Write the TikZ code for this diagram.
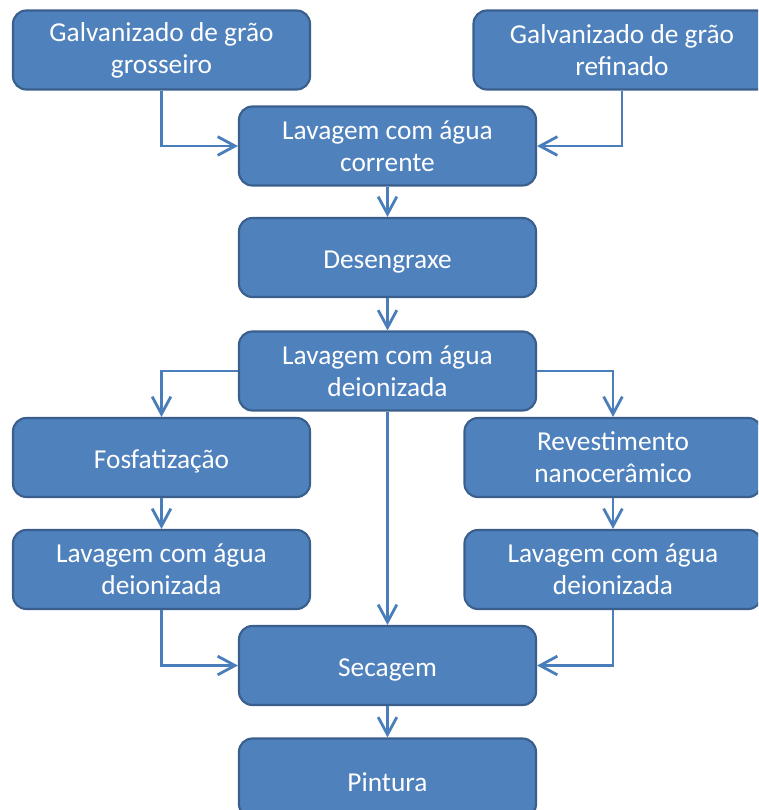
\documentclass[tikz,border=0pt]{standalone}
\usepackage{fontspec}
\setmainfont{Carlito}
\usetikzlibrary{arrows.meta}
\definecolor{boxfill}{HTML}{4F81BD}
\definecolor{boxline}{HTML}{3A5F8C}
\definecolor{arrowc}{HTML}{4A7EBB}
\tikzset{
  stepbox/.style={draw=boxline, line width=1.6pt, fill=boxfill, rounded corners=10pt,
    minimum width=222.75pt, minimum height=59.25pt, inner sep=0pt,
    align=center, text=white,
    font=\fontsize{20.5}{24}\selectfont,
    execute at begin node={\rule{0pt}{20pt}}},
  twoline/.style={execute at begin node={\rule{0pt}{24pt}}},
  flow/.style={draw=arrowc, line width=2.1pt,
    -{Straight Barb[length=13pt,width=14pt,line width=2.1pt]}}
}
\begin{document}
\begin{tikzpicture}[x=0.75pt,y=-0.75pt]
\useasboundingbox (0,0) rectangle (758,810);
\clip (0,0) rectangle (758,810);
\node[stepbox,twoline] (g1) at (161.5,50) {Galvanizado de grão\\grosseiro};
\node[stepbox,twoline] (g2) at (622,50) {Galvanizado de grão\\refinado};
\node[stepbox,twoline] (l1) at (387.5,146) {Lavagem com água\\corrente};
\node[stepbox] (d) at (387.5,257.5) {Desengraxe};
\node[stepbox,twoline] (l2) at (387.5,371) {Lavagem com água\\deionizada};
\node[stepbox] (f) at (161.5,457.5) {Fosfatização};
\node[stepbox,twoline] (lf) at (161.5,569.5) {Lavagem com água\\deionizada};
\node[stepbox,twoline] (r) at (613,457.5) {Revestimento\\nanocerâmico};
\node[stepbox,twoline] (lr) at (613,569.5) {Lavagem com água\\deionizada};
\node[stepbox] (s) at (387.5,665.5) {Secagem};
\node[stepbox] (p) at (387.5,778) {Pintura};
\draw[flow] (g1.south) |- (l1.west);
\draw[flow] (g2.south) |- (l1.east);
\draw[flow] (l1) -- (d);
\draw[flow] (d) -- (l2);
\draw[flow] (l2.west) -| (f.north);
\draw[flow] (l2.east) -| (r.north);
\draw[flow] (l2) -- (s);
\draw[flow] (f) -- (lf);
\draw[flow] (r) -- (lr);
\draw[flow] (lf.south) |- (s.west);
\draw[flow] (lr.south) |- (s.east);
\draw[flow] (s) -- (p);
\end{tikzpicture}
\end{document}
